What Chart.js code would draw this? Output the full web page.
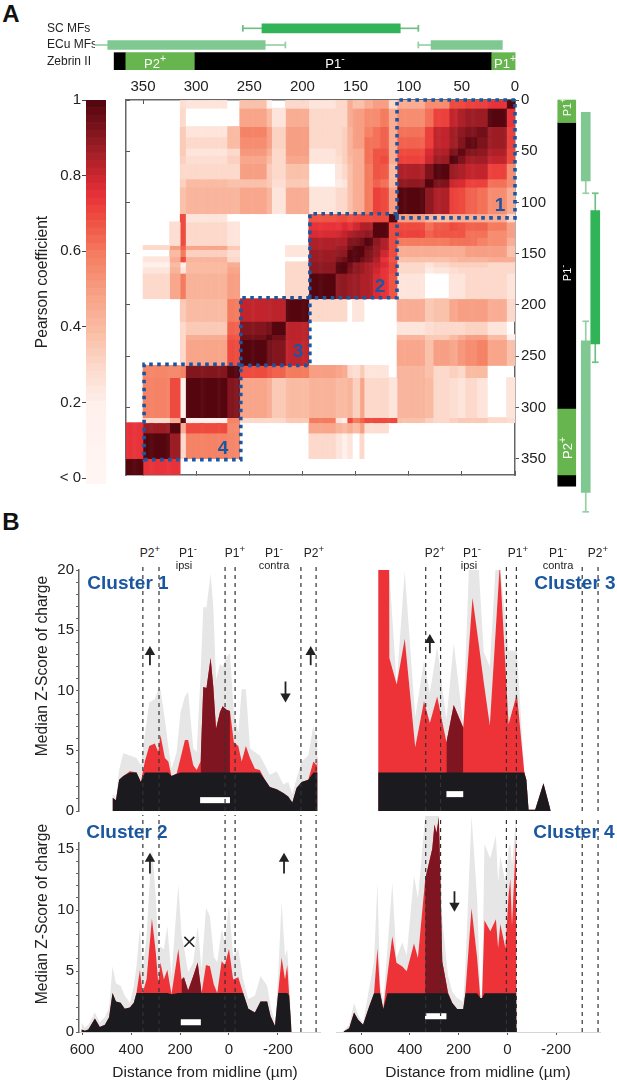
<!DOCTYPE html>
<html>
<head>
<meta charset="utf-8">
<title>Pearson coefficient and Z-score clusters</title>
<script src="https://cdn.jsdelivr.net/npm/chart.js@4"></script>
<style>
  body { margin: 0; background: #fff; width: 617px; height: 1080px; position: relative; overflow: hidden; font-family: "Liberation Sans", Arial, sans-serif; color: #222; }
  canvas { position: absolute; }
  .note { position: absolute; white-space: nowrap; transform: translate(-50%, -50%); }
  .note sup { font-size: 0.8em; line-height: 0; }
</style>
</head>
<body>
<script>
Chart.defaults.font.family = '"Liberation Sans", Arial, sans-serif';
Chart.defaults.color = '#222';

// part A - correlation matrix, bands in um, only the lower triangle is kept
const bandEdges = [0, 8, 26, 36, 47, 54, 62, 77, 85, 111, 119, 127, 134, 142, 146, 153, 158, 163, 169, 194, 216, 229, 234, 259, 271, 310, 315, 325, 350, 366];
const corrRows = [
  [1],
  [.75, 1],
  [.72, .88, .95],
  [.72, .88, .93, .98],
  [.7, .85, .9, .92, .98],
  [.7, .82, .87, .87, .93, 1],
  [.55, .72, .82, .82, .85, .88, 1],
  [.55, .62, .72, .72, .78, .8, .93, 1],
  [.45, .55, .62, .65, .7, .72, .85, .9, 1],
  [.3, .45, .45, .45, .45, .45, .4, .42, .5, 1],
  [.5, .6, .65, .65, .68, .7, .67, .62, .7, .7, 1],
  [.5, .55, .62, .62, .68, .68, .68, .65, .72, .7, 1, 1],
  [.45, .55, .58, .62, .62, .62, .6, .6, .6, .7, .85, .9, 1],
  [.38, .5, .5, .5, .45, .45, .45, .45, .45, .7, .85, .88, .95, 1],
  [.38, .5, .5, .5, .45, .45, .45, .45, .45, .7, .8, .88, .93, 1, 1],
  [.45, .45, .42, .42, .42, .4, .38, .38, .38, .68, .75, .85, .92, .95, 1, 1],
  [.3, .3, .33, .33, .33, .33, .3, .25, .3, .7, .78, .82, .85, .88, .9, .95, 1],
  [.3, .3, .3, .3, .3, .28, .25, .22, .3, .7, .75, .8, .85, .88, .9, .93, 1, 1],
  [.25, .3, .3, .3, .25, .25, 0, 0, .25, .68, .75, .78, .85, .85, .88, .88, .9, .9, 1],
  [.3, .45, .5, .5, .5, .47, .38, .35, .45, 0, 0, 0, 0, .25, .25, 0, .3, .3, .3, 1],
  [0, .25, .32, .32, .3, .3, .3, .28, .25, 0, 0, 0, 0, 0, 0, 0, 0, 0, 0, .83, 1],
  [.2, .4, .5, .5, .45, .4, .35, .35, .42, 0, 0, 0, 0, 0, 0, 0, 0, 0, 0, .83, .95, 1],
  [.38, .48, .58, .55, .52, .47, .5, .38, .47, 0, 0, 0, 0, 0, 0, 0, 0, 0, 0, .82, .92, .95, 1],
  [0, 0, .4, .4, .3, .33, .3, .38, .42, 0, .25, .25, .25, .35, .28, .3, .45, .48, .5, .6, .65, .68, .7, 1],
  [.25, 0, .25, .3, .25, .28, .3, .4, .42, .25, .3, .3, .3, .48, .33, .42, .4, .4, .43, .4, .35, .45, .48, .92, 1],
  [.28, .3, .35, .35, .35, .33, .3, .33, .38, .7, .7, .7, .7, .65, .6, .7, .2, .25, .6, .35, .3, .3, .3, .58, .2, 1],
  [0, 0, 0, 0, 0, 0, 0, 0, 0, 0, .28, .28, .28, .5, .4, .45, .4, .43, .47, 0, 0, 0, 0, .56, .7, .45, 1],
  [0, 0, 0, 0, 0, 0, 0, 0, 0, 0, 0, 0, 0, .3, 0, .25, .2, .25, .3, 0, 0, 0, 0, .57, .58, .3, .88, 1],
  [0, 0, 0, 0, 0, 0, 0, 0, 0, 0, 0, 0, 0, 0, 0, 0, 0, 0, 0, 0, 0, 0, 0, 0, 0, 0, .75, .75, 1]
];
const clusterBoxes = [[0, 111, 0, 115], [111, 193, 111, 193], [193, 258, 193, 259], [258, 349, 258, 351]];
const umTicks = [0, 50, 100, 150, 200, 250, 300, 350];

// colour bar
const colorStops = [0, .2, .3, .4, .5, .6, .7, .75, .8, .9, 1];
const colorHex = ['#fff6f4', '#fff0ec', '#fcd9cb', '#fabba3', '#f79f84', '#f47c5f', '#ee4b3f', '#e8333a', '#cf2830', '#8f1a22', '#55060f'];
const colorLevels = [1, .98, .96, .94, .92, .9, .88, .86, .84, .82, .8, .78, .76, .74, .72, .7, .68, .66, .64, .62, .6, .58, .56, .54, .52, .5, .48, .46, .44, .42, .4, .38, .36, .34, .32, .3, .28, .26, .24, .22, .2, .18, .16, .14, .12, .1, .08, .06, .04, .02, 0];
const pearsonTicks = [1, .8, .6, .4, .2, 0];

// mossy fibre extents and zebrin bands, in um from the midline
const scBar = [108, 238];
const scWhiskers = [[91, 108], [238, 256]];
const scCaps = [91, 256];
const ecuBars = [[12, 79], [235, 383]];
const ecuWhiskers = [[79, 91], [216, 235], [383, 402]];
const ecuCaps = [91, 216, 402];
const zebrinBands = [[0, 22], [22, 301], [301, 366], [366, 377]];
const zebrinColors = ['#66b54e', '#000000', '#66b54e', '#000000'];

// part B - distance from midline (um), upper envelope and median z-score
const cluster1X = [476, 462, 449, 432, 405, 378, 360, 344, 326, 303, 289, 280, 262, 248, 235, 214, 198, 180, 167, 146, 132, 116, 105, 92, 75, 64, 53, 37, 26, 10, -4, -20, -38, -52, -69, -86, -106, -126, -147, -167, -195, -222, -242, -259, -276, -297, -324, -345, -358, -362];
const cluster1Upper = [1.4, 1.1, 3.4, 4.8, 4.6, 4.4, 3.8, 6.3, 9, 9.3, 10.1, 10.1, 7.6, 5.4, 3.5, 4.9, 8.2, 9.5, 9.9, 5.2, 4.9, 11.4, 16.9, 16.9, 19.7, 16.9, 10.9, 12.2, 12, 12.8, 13.1, 8.2, 6.5, 10.1, 10.1, 5.2, 4.9, 4.6, 3.8, 3, 3.3, 2.2, 2.4, 1.4, 2.7, 4.1, 4.6, 7.1, 6, 6];
const cluster1Median = [1.1, .9, 2.6, 2.9, 3.3, 3.2, 2.4, 4.1, 5.4, 5.6, 4.9, 6.3, 4.4, 4.1, 2.9, 3.1, 4.4, 5.9, 5.9, 3.8, 3.4, 4.1, 10.3, 10.2, 12.7, 10.3, 6.8, 8.2, 8.7, 8.4, 8.3, 5.7, 5.4, 4.1, 5.4, 4.4, 3.5, 3.4, 2.6, 2, 1.8, 1.5, 1.2, .7, 1.9, 2.4, 2.6, 4.1, 3.8, 4.6];

const cluster2X = [603, 589, 575, 548, 528, 507, 490, 476, 462, 443, 426, 405, 389, 378, 364, 353, 337, 315, 299, 289, 280, 266, 252, 235, 207, 194, 184, 167, 146, 128, 112, 94, 78, 62, 48, 30, 17, 0, -17, -38, -58, -79, -106, -129, -156, -170, -188, -201, -215, -229, -238, -246, -256];
const cluster2Upper = [.8, .35, .6, 1.6, .8, 1.2, 2, 5.4, 4, 3.8, 3, 2.4, 3.8, 5.4, 8.6, 4.9, 7.9, 15.3, 11.1, 6.8, 7, 6.8, 8.7, 4.6, 12.1, 7.9, 7, 4.9, 5.7, 8.7, 5.1, 10.2, 9.5, 6.2, 5.7, 8.4, 7.3, 10.5, 6.2, 6.8, 4.3, 2.7, 3, 4.6, 3.8, 2.1, .8, 4.6, 10.7, 6.2, 6.8, 4.3, 0];
const cluster2Median = [.2, .1, .2, 1.1, .4, .6, 1.2, 3.2, 2.5, 2.4, 1.9, 2, 2.4, 3.2, 5.1, 3.2, 4.3, 9.3, 6.5, 4, 5.7, 4.3, 5.1, 3.1, 6.8, 4.3, 4.5, 3.4, 4.6, 5.7, 3.2, 5.5, 5.4, 3.9, 3.2, 5.8, 5.5, 6.8, 4.3, 4.5, 3.2, 1.9, 1.6, 2.5, 2.5, 1.3, .5, 3.2, 6.1, 4.3, 5.5, 3, 0];

const cluster3X = [530, 485, 484, 454, 421, 378, 342, 318, 288, 250, 220, 181, 158, 143, 117, 97, 72, 49, 31, -5, -39, -69, -78, -87, -114, -148, -178];
const cluster3Upper = [20, 20, 20, 10.6, 19.9, 7.8, 12.5, 9.8, 13.6, 7.6, 13.9, 7.2, 20, 20, 20, 13.2, 12, 20, 20.5, 13.3, 13.3, 3.3, 2.6, .1, .1, 2.3, 0];
const cluster3Median = [20, 20, 12.7, 10.5, 14.3, 5.3, 9.1, 7.3, 9.5, 5.7, 8.8, 6.9, 13.5, 17.7, 13.8, 10.7, 7.1, 14.6, 20.5, 7.2, 9.7, 3.3, 2.6, .1, .1, 2.3, 0];

const cluster4X = [672, 649, 629, 612, 592, 567, 547, 533, 522, 509, 492, 472, 455, 431, 413, 383, 367, 337, 308, 299, 291, 281, 267, 244, 226, 206, 181, 172, 147, 124, 111, 104, 94, 70, 47, 38, 29, 8, -5, -12, -19, -36, -38];
const cluster4Upper = [.1, .6, 2.4, 1.4, .7, 3.6, 5.8, 12.3, 3.9, 2.5, 6.9, 12.3, 6.1, 7.4, 6.3, 12.9, 11, 17.8, 17.8, 17.8, 17.8, 17.8, 9.3, 4.7, 3.3, 2.8, 2.5, 5.5, 17.8, 11, 3.1, 3.1, 15.5, 14.3, 16.2, 12.3, 14.5, 12.3, 15.1, 15.6, 13.7, 17.8, 0];
const cluster4Median = [.05, .3, 1.6, 1, .6, 2.1, 3.2, 6.9, 3.3, 1.9, 4.7, 7.9, 5.7, 5.4, 5, 7.3, 6.1, 12.6, 15.1, 17.1, 16.4, 17.7, 5.8, 3.3, 2.4, 1.9, 1.9, 3.3, 10.2, 6.1, 2.8, 2.8, 9.2, 8.3, 9.3, 6.9, 8.9, 6.9, 11.3, 12.6, 8.8, 16.2, 0];

const zThreshold = 3.2;
const boundsLeft = [352, 286, 16, -25, -294, -356];
const boundsRight = [335, 274, 4, -37, -307, -372];
const distanceTicks = [600, 400, 200, 0, -200];
const z20Ticks = [0, 1, 2, 3, 4, 5, 6, 7, 8, 9, 10, 11, 12, 13, 14, 15, 16, 17, 18, 19, 20];
const z15Ticks = [0, 1, 2, 3, 4, 5, 6, 7, 8, 9, 10, 11, 12, 13, 14, 15];

function addCanvas(left, top, width, height) {
  const c = document.createElement('canvas');
  c.width = width;
  c.height = height;
  c.style.left = left + 'px';
  c.style.top = top + 'px';
  c.style.width = width + 'px';
  c.style.height = height + 'px';
  document.body.appendChild(c);
  return c.getContext('2d');
}

function heatColor(v) {
  let i = 0;
  while (i < colorStops.length - 2 && v > colorStops[i + 1]) i++;
  const t = Math.max(0, Math.min(1, (v - colorStops[i]) / (colorStops[i + 1] - colorStops[i])));
  const a = colorHex[i], b = colorHex[i + 1];
  const ch = [1, 3, 5].map(k => {
    const p = parseInt(a.substr(k, 2), 16), q = parseInt(b.substr(k, 2), 16);
    return Math.round(p + (q - p) * t);
  });
  return `rgb(${ch[0]},${ch[1]},${ch[2]})`;
}

function fixedTicks(values) {
  return scale => { scale.ticks = values.map(v => ({ value: v })); };
}

// axes get an exact size and no label margins, so the plot area stays where it is put
function sized(prop, size) {
  return s => {
    s[prop] = size;
    s.paddingLeft = s.paddingRight = s.paddingTop = s.paddingBottom = 0;
  };
}

const baseOptions = {
  responsive: false,
  animation: false,
  events: [],
  plugins: { legend: { display: false }, tooltip: { enabled: false } }
};

// ---- heat map: one dataset per row band, one floating bar per um column
const umColumns = [];
for (let um = 0; um < bandEdges[bandEdges.length - 1]; um++) umColumns.push(um);

function bandOf(um) {
  let i = 0;
  while (um >= bandEdges[i + 1]) i++;
  return i;
}
function corr(i, j) {
  return corrRows[Math.max(i, j)][Math.min(i, j)];
}

const heatSets = [];
for (let row = 0; row < bandEdges.length - 1; row++) {
  heatSets.push({
    type: 'bar',
    xAxisID: 'x',
    yAxisID: 'y',
    order: 2,
    grouped: false,
    barPercentage: 1,
    categoryPercentage: 1,
    borderWidth: 0,
    data: umColumns.map(um => corr(row, bandOf(um)) > 0 ? [bandEdges[row], bandEdges[row + 1]] : null),
    backgroundColor: umColumns.map(um => heatColor(corr(row, bandOf(um))))
  });
}
clusterBoxes.forEach(b => {
  heatSets.push({
    type: 'line',
    xAxisID: 'xTop',
    yAxisID: 'y',
    order: 0,
    clip: false,
    borderColor: '#1b56a0',
    borderWidth: 3.6,
    borderDash: [3.6, 4.4],
    pointRadius: 0,
    tension: 0,
    data: [{ x: b[0], y: b[2] }, { x: b[1], y: b[2] }, { x: b[1], y: b[3] }, { x: b[0], y: b[3] }, { x: b[0], y: b[2] }]
  });
});

const frameGrid = { drawOnChartArea: false, tickLength: -4, tickColor: '#555', tickWidth: 1, offset: false };
const frameBorder = { display: true, color: '#666', width: 1.5 };
new Chart(addCanvas(120, 75, 440, 406), {
  type: 'bar',
  data: { labels: umColumns, datasets: heatSets },
  options: {
    ...baseOptions,
    layout: { padding: { left: 6, bottom: 6 } },
    scales: {
      x: { type: 'category', display: false, reverse: true, offset: true, grid: { display: false } },
      xTop: {
        type: 'linear', axis: 'x', position: 'top', reverse: true, min: 0, max: 366, offset: false,
        afterBuildTicks: fixedTicks(umTicks),
        afterFit: sized('height', 25),
        grid: frameGrid, border: frameBorder,
        ticks: { font: { size: 15 }, maxRotation: 0, padding: 8, color: '#222' }
      },
      xBottom: {
        type: 'linear', axis: 'x', position: 'bottom', reverse: true, min: 0, max: 366, offset: false,
        afterBuildTicks: fixedTicks(umTicks),
        afterFit: sized('height', 0),
        grid: frameGrid, border: frameBorder,
        ticks: { display: false }
      },
      y: {
        type: 'linear', position: 'right', reverse: true, min: 0, max: 366,
        afterBuildTicks: fixedTicks(umTicks),
        afterFit: sized('width', 45),
        grid: { drawOnChartArea: false, tickLength: 4, tickColor: '#555' }, border: frameBorder,
        ticks: { font: { size: 15 }, padding: 2, color: '#222' }
      },
      yLeft: {
        type: 'linear', axis: 'y', position: 'left', reverse: true, min: 0, max: 366,
        afterBuildTicks: fixedTicks(umTicks),
        afterFit: sized('width', 0),
        grid: frameGrid, border: frameBorder,
        ticks: { display: false }
      }
    }
  }
});

// ---- colour bar
new Chart(addCanvas(0, 90, 106, 396), {
  type: 'bar',
  data: {
    labels: colorLevels,
    datasets: [{
      yAxisID: 'yCat',
      data: colorLevels.map(() => [0, 1]),
      backgroundColor: colorLevels.map(heatColor),
      barPercentage: 1,
      categoryPercentage: 1,
      borderWidth: 0
    }]
  },
  options: {
    ...baseOptions,
    indexAxis: 'y',
    layout: { padding: { top: 10, bottom: 2 } },
    scales: {
      x: { type: 'linear', display: false, min: 0, max: 1 },
      yCat: { type: 'category', display: false, offset: true },
      y: {
        type: 'linear', position: 'left', min: -0.015, max: 1, offset: false,
        afterBuildTicks: fixedTicks(pearsonTicks),
        afterFit: sized('width', 86),
        grid: { drawOnChartArea: false, tickLength: 4, tickColor: '#444', offset: false },
        border: { display: false },
        ticks: { font: { size: 15 }, padding: 1, color: '#222', callback: v => v === 0 ? '< 0' : String(v) }
      }
    }
  }
});

// ---- mossy fibre / zebrin strips, same data drawn on top and on the right
// farEnd: on the top strip the last whisker runs in under the row label and loses its cap
function stripSets(labels, farEnd) {
  const sets = [];
  const add = (cat, range, color, thick) => sets.push({
    data: labels.map(l => l === cat ? range : null),
    backgroundColor: color,
    barThickness: thick,
    grouped: false,
    borderWidth: 0,
    clip: false
  });
  const scColor = '#30b457', ecuColor = '#80c891';
  add('SC MFs', scBar, scColor, 9);
  ecuBars.forEach(r => add('ECu MFs', r, ecuColor, 9));
  scWhiskers.forEach(r => add('SC MFs', r, '#6fbf82', 1));
  scCaps.forEach(v => add('SC MFs', [v - .5, v + .5], '#6fbf82', 6));
  ecuWhiskers.forEach(r => add('ECu MFs', [r[0], Math.min(r[1], farEnd)], '#96cfa4', 1));
  ecuCaps.filter(v => v <= farEnd).forEach(v => add('ECu MFs', [v - .5, v + .5], '#96cfa4', 6));
  zebrinBands.forEach((r, i) => add('Zebrin II', r, zebrinColors[i], 18));
  return sets;
}

const topRows = ['SC MFs', 'ECu MFs', 'Zebrin II'];
new Chart(addCanvas(47, 20, 483, 50), {
  type: 'bar',
  data: { labels: topRows, datasets: stripSets(topRows, 395) },
  options: {
    ...baseOptions,
    indexAxis: 'y',
    scales: {
      x: { type: 'linear', display: false, reverse: true, min: -14, max: 395 },
      y: {
        type: 'category',
        afterFit: sized('width', 48),
        grid: { display: false },
        border: { display: false },
        ticks: { crossAlign: 'far', font: { size: 12 }, padding: 0, autoSkip: false, color: '#222' }
      }
    }
  }
});

const sideColumns = ['Zebrin II', '', 'ECu MFs', 'SC MFs'];
new Chart(addCanvas(552, 90, 60, 430), {
  type: 'bar',
  data: { labels: sideColumns, datasets: stripSets(sideColumns, 410) },
  options: {
    ...baseOptions,
    layout: { padding: { left: 10, right: 12 } },
    scales: {
      x: { type: 'category', display: false },
      y: { type: 'linear', display: false, reverse: true, min: -9.8, max: 410 }
    }
  }
});

// ---- z-score panels
function drawPanel(p) {
  const pts = (ys) => p.x.map((x, i) => ({ x: x, y: ys[i] }));
  const line = (extra) => Object.assign({ pointRadius: 0, borderWidth: 0, tension: 0 }, extra);
  const sets = [
    line({ data: pts(p.upper), fill: 'origin', backgroundColor: '#e6e6e6' }),
    line({ data: pts(p.median), fill: 'origin', backgroundColor: '#ee3338' }),
    line({ data: pts(p.median).filter(d => d.x <= p.dark[0] && d.x >= p.dark[1]), fill: 'origin', backgroundColor: '#7f1520' }),
    line({ data: pts(p.median.map(v => Math.min(v, zThreshold))), fill: 'origin', backgroundColor: '#1a1a1f' }),
    // white bar marks the stimulated span
    line({ data: [{ x: p.mark[0], y: p.mark[2] }, { x: p.mark[1], y: p.mark[2] }], borderWidth: 6, borderColor: '#fff' })
  ];
  p.bounds.forEach(b => sets.push(line({
    data: [{ x: b, y: 0 }, { x: b, y: p.dashTop }],
    borderWidth: 1.2, borderColor: '#333', borderDash: [4, 4], clip: false
  })));
  (p.arrows || []).forEach(a => sets.push({
    data: [{ x: a[0], y: a[1] }, { x: a[0], y: a[2] }],
    borderWidth: 1.8, borderColor: '#222', backgroundColor: '#222', tension: 0,
    pointStyle: 'triangle', pointRadius: [0, 6], pointBorderWidth: 0,
    pointRotation: a[2] > a[1] ? 0 : 180
  }));
  (p.crosses || []).forEach(c => sets.push({
    data: [{ x: c[0], y: c[1] }], showLine: false,
    pointStyle: 'crossRot', pointRadius: 7, borderColor: '#222', pointBorderWidth: 1.6, backgroundColor: '#222'
  }));
  // the first dataset of a line chart is painted last, so put the order the right way round
  sets.forEach((s, i) => { s.order = sets.length - i; });

  new Chart(addCanvas(p.box[0], p.box[1], p.box[2], p.box[3]), {
    type: 'line',
    data: { datasets: sets },
    options: {
      ...baseOptions,
      layout: { padding: p.pad },
      scales: {
        x: {
          type: 'linear', reverse: true, min: p.xRange[1], max: p.xRange[0], display: !!p.showX,
          afterBuildTicks: fixedTicks(distanceTicks),
          afterFit: sized('height', p.showX ? 30 : 0),
          grid: { drawOnChartArea: false, tickLength: 3, tickColor: '#555' },
          border: { display: true, color: '#d5d5d5', width: 1 },
          ticks: { font: { size: 15 }, padding: 6, maxRotation: 0, color: '#222' }
        },
        y: {
          type: 'linear', min: 0, max: p.yMax, display: !!p.yTicks,
          afterBuildTicks: fixedTicks(p.yTicks || []),
          afterFit: sized('width', p.yTicks ? 79 : 0),
          grid: { drawOnChartArea: false, tickLength: 3, tickColor: '#666' },
          border: { display: true, color: '#666', width: 1.5 },
          ticks: { font: { size: 15 }, padding: 2, autoSkip: false, color: '#222', callback: v => v % 5 === 0 ? String(v) : '' }
        }
      }
    }
  });
}

const leftRange = [613, -372], rightRange = [703, -380];

drawPanel({
  box: [0, 560, 337, 257], pad: { top: 10, bottom: 2, right: 17 }, xRange: leftRange,
  x: cluster1X, upper: cluster1Upper, median: cluster1Median, dark: [116, -4], mark: [118, -4, .9],
  bounds: boundsLeft, dashTop: 20.35, yMax: 20, yTicks: z20Ticks,
  arrows: [[323, 12.1, 13.2], [-334, 12.1, 13.2], [-231, 10.75, 9.5]]
});
drawPanel({
  box: [0, 815, 337, 247], pad: { top: 28, right: 17 }, xRange: leftRange,
  x: cluster2X, upper: cluster2Upper, median: cluster2Median, dark: [194, 112], mark: [197, 115, .8],
  bounds: boundsLeft, dashTop: 17.8, yMax: 15.5, yTicks: z15Ticks, showX: true,
  arrows: [[323, 13, 14.2], [-225, 13, 14.2]], crosses: [[162, 7.4]]
});
drawPanel({
  box: [330, 560, 287, 257], pad: { top: 10, bottom: 2, left: 5, right: 17 }, xRange: rightRange,
  x: cluster3X, upper: cluster3Upper, median: cluster3Median, dark: [250, 181], mark: [250, 181, 1.4],
  bounds: boundsRight, dashTop: 20.35, yMax: 20,
  arrows: [[318, 13.1, 14.2]]
});
drawPanel({
  box: [330, 810, 287, 252], pad: { top: 5, left: 5, right: 17 }, xRange: rightRange,
  x: cluster4X, upper: cluster4Upper, median: cluster4Median, dark: [337, 244], mark: [338, 250, 1.3],
  bounds: boundsRight, dashTop: 17.8, yMax: 17.8, showX: true,
  arrows: [[217, 11.6, 10.4]]
});

// ---- text that sits on top of the charts
function note(html, x, y, size, extra) {
  const d = document.createElement('div');
  d.className = 'note';
  d.innerHTML = html;
  d.style.left = x + 'px';
  d.style.top = y + 'px';
  d.style.fontSize = size + 'px';
  if (extra) Object.assign(d.style, extra);
  document.body.appendChild(d);
}
const vertical = { transform: 'translate(-50%, -50%) rotate(-90deg)' };
const white = { color: '#fff' };
const blue = { color: '#1b56a0', fontWeight: 'bold' };

note('A', 11, 14, 24, { fontWeight: 'bold', color: '#111' });
note('B', 11, 522, 24, { fontWeight: 'bold', color: '#111' });
note('P2<sup>+</sup>', 155, 63, 13, white);
note('P1<sup>-</sup>', 335, 63, 13, white);
note('P1<sup>+</sup>', 505, 63, 13, white);
note('P1<sup>+</sup>', 567, 107, 11, Object.assign({}, vertical, white));
note('P1<sup>-</sup>', 567, 273, 11, Object.assign({}, vertical, white));
note('P2<sup>+</sup>', 567, 448, 13, Object.assign({}, vertical, white));
note('Pearson coefficient', 42, 282, 15.6, vertical);
note('1', 500, 205, 19, blue);
note('2', 380, 286, 19, blue);
note('3', 298, 351, 19, blue);
note('4', 223, 448, 19, blue);

note('Cluster 1', 128, 583, 19, blue);
note('Cluster 2', 127, 832, 19, blue);
note('Cluster 3', 575, 583, 19, blue);
note('Cluster 4', 574, 832, 19, blue);

[[150, 'P2<sup>+</sup>'], [188, 'P1<sup>-</sup>'], [235, 'P1<sup>+</sup>'], [274, 'P1<sup>-</sup>'], [314, 'P2<sup>+</sup>'],
 [435, 'P2<sup>+</sup>'], [472, 'P1<sup>-</sup>'], [518, 'P1<sup>+</sup>'], [558, 'P1<sup>-</sup>'], [598, 'P2<sup>+</sup>']]
  .forEach(h => note(h[1], h[0], 553, 12));
note('ipsi', 184, 565, 11);
note('contra', 274, 565, 11);
note('ipsi', 469, 565, 11);
note('contra', 558, 565, 11);

note('Median Z-Score of charge', 42, 666, 15.6, vertical);
note('Median Z-Score of charge', 42, 914, 15.6, vertical);
note('Distance from midline (µm)', 205, 1072, 15.5);
note('Distance from midline (µm)', 478, 1072, 15.5);
</script>
</body>
</html>
